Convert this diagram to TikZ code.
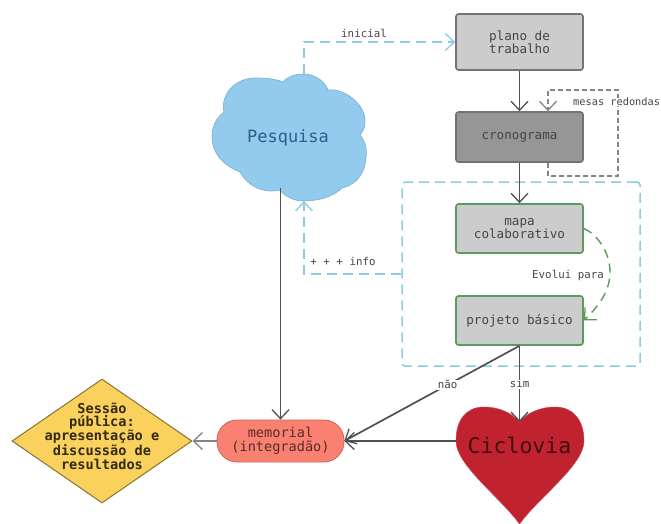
\documentclass[tikz,border=0pt]{standalone}
\usepackage{fontspec}
\setmainfont{DejaVu Sans Mono}
\usetikzlibrary{arrows.meta,shapes.geometric,calc}
\definecolor{boxgray}{HTML}{CCCCCC}
\definecolor{cronogray}{HTML}{969696}
\definecolor{blueline}{HTML}{8CCBE0}
\definecolor{cloudblue}{HTML}{93CBEE}
\definecolor{greenline}{HTML}{5E9A5C}
\definecolor{txtgray}{HTML}{444444}
\definecolor{linegray}{HTML}{505050}
\definecolor{heartfill}{HTML}{C0232F}
\definecolor{memfill}{HTML}{FA8072}
\definecolor{diafill}{HTML}{F9D15C}
\definecolor{cloudtxt}{HTML}{2B5F86}
\tikzset{
  x=1pt,y=-1pt,
  barb/.style={-{Straight Barb[length=9pt,width=17pt,line width=1.3pt]}},
  solidline/.style={barb,draw=linegray,line width=1.7pt},
  blueconn/.style={barb,draw=blueline,line width=1.5pt,dash pattern=on 10pt off 6pt},
  grayconn/.style={barb,draw=linegray!70,line width=1.2pt,dash pattern=on 5pt off 3pt},
  greenconn/.style={barb,draw=greenline,line width=1.4pt,dash pattern=on 9pt off 6pt},
  boxbase/.style={rectangle,rounded corners=2.5pt,minimum width=127pt,align=center,inner sep=0pt,text=txtgray,font=\fontsize{12.6pt}{12.8pt}\selectfont,line width=1.6pt},
  graybox/.style={boxbase,fill=boxgray,draw=linegray!80},
  greenbox/.style={boxbase,fill=boxgray,draw=greenline},
  lab/.style={text=txtgray,inner sep=1pt,font=\fontsize{10.8pt}{12pt}\selectfont},
}
\begin{document}
\begin{tikzpicture}
\useasboundingbox (0,0) rectangle (661,524);
% dashed group frame
\node[draw=blueline,line width=1.5pt,dash pattern=on 10pt off 6pt,rounded corners=3pt,minimum width=238pt,minimum height=184pt,inner sep=0pt] (group) at (521,274) {};
% boxes
\node[graybox,minimum height=56pt] (plano) at (519.5,42) {plano de\\trabalho};
\node[graybox,fill=cronogray,minimum height=50pt] (crono) at (519.5,137) {cronograma};
\node[greenbox,minimum height=49pt] (mapa) at (519.5,228.5) {mapa\\colaborativo};
\node[greenbox,minimum height=49pt] (proj) at (519.5,320.5) {projeto básico};
% cloud
\path[fill=cloudblue,draw=cloudblue!88!black,line width=.7pt]
  (283,82) .. controls (288,76) and (296,74) .. (303,74)
  .. controls (314,74) and (324,80) .. (328,90)
  .. controls (345,88) and (366,105) .. (365,122)
  .. controls (365,128) and (363,131) .. (360,135)
  .. controls (366,142) and (367,150) .. (366,158)
  .. controls (365,172) and (358,184) .. (342,188)
  .. controls (333,197) and (318,201) .. (303,201)
  .. controls (295,201) and (285,197) .. (280,190)
  .. controls (268,193) and (250,190) .. (240,172)
  .. controls (222,165) and (212,152) .. (212,137)
  .. controls (212,127) and (216,118) .. (224,112)
  .. controls (220,95) and (235,78) .. (255,78)
  .. controls (266,78) and (276,79) .. (283,82) -- cycle;
\node[inner sep=0pt,text=cloudtxt,font=\fontsize{17pt}{20pt}\selectfont] (cloudn) at (288,138) {Pesquisa};
% heart
\path[fill=heartfill,draw=heartfill!85!white,line width=.5pt] (519.5,524) .. controls (500,497) and (456,465) .. (456,441) .. controls (456,420) and (466,407) .. (484,407) .. controls (499,407) and (512,413) .. (519.5,422) .. controls (527,413) and (540,407) .. (555,407) .. controls (573,407) and (584,420) .. (584,441) .. controls (584,465) and (539,497) .. (519.5,524) -- cycle;
\node[inner sep=0pt,text=black!65!heartfill,font=\fontsize{21.5pt}{24pt}\selectfont] (heart) at (519.5,445) {Ciclovia};
% memorial
\node[rectangle,rounded corners=20pt,fill=memfill,draw=memfill!80!black,line width=.8pt,minimum width=127pt,minimum height=42pt,inner sep=0pt,align=center,text=black!65!memfill,font=\fontsize{13.6pt}{14pt}\selectfont] (memorial) at (280.5,441) {memorial\\(integradão)};
% diamond
\node[diamond,aspect=1.45,fill=diafill,draw=diafill!55!black,line width=1pt,minimum width=180pt,minimum height=124pt,inner sep=0pt] (dia) at (102,441) {};
\node[align=center,inner sep=0pt,text=black!80!diafill,font=\fontsize{13.6pt}{13.7pt}\selectfont\bfseries] (diatext) at (102,436) {Sessão\\pública:\\apresentação e\\discussão de\\resultados};
% connectors
\coordinate (cloudtop) at ($(cloudn.center)+(16,-64)$);
\coordinate (cloudbot) at ($(cloudn.center)+(16,63)$);
\coordinate (cloudout) at ($(cloudn.center)+(-7.5,50)$);
\coordinate (heartw) at (456,441);
\coordinate (heartn) at (519.5,422);
\draw[blueconn] (cloudtop) |- (plano.west);
\node[lab,inner sep=0pt] (inicial) at (364,33) {inicial};
\draw[solidline] (plano.south) -- (crono.north);
\coordinate (gout) at ($(crono.south)+(28.5,0)$);
\coordinate (gin) at ($(crono.north)+(28.5,0)$);
\coordinate (gr1) at (618,176);
\coordinate (gr2) at (618,90);
\draw[grayconn] (gout) |- (gr1) -- (gr2) -| (gin);
\node[lab,anchor=west,fill=white,inner sep=0pt,font=\fontsize{10.3pt}{12pt}\selectfont] (mesas) at (573,102) {mesas redondas};
\draw[solidline] (crono.south) -- (mapa.north);
\draw[greenconn] (mapa.east) .. controls (595,233) and (610,250) .. (610,272) .. controls (610,290) and (600,305) .. (proj.east);
\node[lab] (evolui) at (568,275) {Evolui para};
\draw[blueconn] (group.west) -| (cloudbot);
\node[lab,inner sep=0pt] (info) at (343,261) {+ + + info};
\draw[solidline] (cloudout) -- (memorial.north);
\draw[solidline] (proj.south) -- (memorial.east) node[pos=.41,fill=white,lab,inner sep=1pt] (nao) {não};
\draw[solidline] (proj.south) -- (heartn) node[pos=.5,fill=white,lab,inner sep=1pt] (sim) {sim};
\draw[solidline] (heartw) -- (memorial.east);
\draw[solidline,draw=linegray!70] (memorial.west) -- (dia.east);
\end{tikzpicture}
\end{document}
